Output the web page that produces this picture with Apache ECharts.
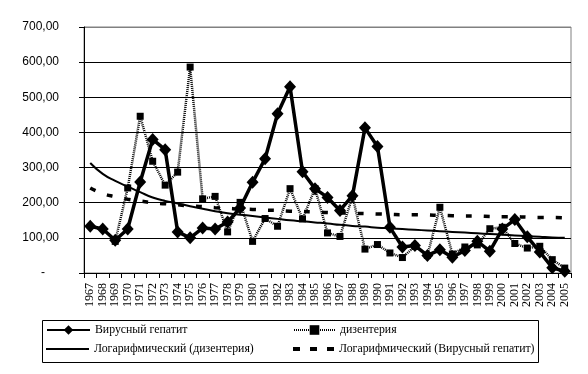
<!DOCTYPE html>
<html>
<head>
<meta charset="utf-8">
<script src="https://cdn.jsdelivr.net/npm/echarts@6/dist/echarts.min.js"></script>
<style>html,body{margin:0;padding:0;background:#fff}#c{width:588px;height:374px}</style>
</head>
<body>
<div id="c"></div>
<script>
var years = ['1967','1968','1969','1970','1971','1972','1973','1974','1975','1976','1977','1978','1979','1980','1981','1982','1983','1984','1985','1986','1987','1988','1989','1990','1991','1992','1993','1994','1995','1996','1997','1998','1999','2000','2001','2002','2003','2004','2005'];
var hepatitis = [133,125,93,125,259,380,351,117,100,128,125,145,185,258,325,453,530,288,240,215,178,220,413,360,130,74,78,50,66,45,64,90,62,125,152,103,60,15,5];
var dysentery = [null,null,90,242,446,318,250,287,586,211,218,117,201,90,155,133,240,154,240,114,104,218,68,81,57,44,76,50,187,54,74,80,126,130,84,71,76,38,14];
var trendDysentery = [313,282,262,246,230,215,205,198,190,183,176,170,166,162,158,154,150,147,144,141,137,134,132,129,127,125,123,121,119,117,115,113,111,109,107,105,103,101,100];
var trendHepatitis = [242,226,217,210,205,200,197,194,191,189,186,184,182,181,179,178,176,175,174,172,171,170,169,168,167,166,166,165,164,163,162,162,161,160,160,159,158,158,157];
var yTicks = [0,100,200,300,400,500,600,700];

var names = ['Вирусный гепатит','дизентерия','Логарифмический (дизентерия)','Логарифмический (Вирусный гепатит)'];
var chart = echarts.init(document.getElementById('c'));
var legendText = {fontFamily:'Liberation Serif', fontSize:11.8, color:'#000'};
chart.setOption({
  animation:false,
  backgroundColor:'#fff',
  grid:{left:84, right:17, top:27, bottom:101, show:true, borderColor:'#808080', borderWidth:1},
  xAxis:{type:'category', data:years, boundaryGap:true,
    axisLine:{lineStyle:{color:'#000', width:1}},
    axisTick:{show:true, interval:0, length:5, lineStyle:{color:'#000'}},
    axisLabel:{interval:0, rotate:90, margin:10, fontFamily:'Liberation Serif', fontSize:12, color:'#000'},
    splitLine:{show:false}},
  yAxis:{type:'value', min:yTicks[0], max:yTicks[yTicks.length-1], interval:100,
    axisLine:{show:true, lineStyle:{color:'#000', width:1}},
    axisTick:{show:true, length:5, lineStyle:{color:'#000'}},
    axisLabel:{margin:25, fontFamily:'Liberation Sans', fontSize:12, color:'#000',
      formatter:function(v){ return v===0 ? '{d|-}' : v.toFixed(2).replace('.', ','); },
      rich:{d:{fontFamily:'Liberation Sans', fontSize:12, color:'#000', padding:[0,14,0,0]}}},
    splitLine:{show:true, lineStyle:{color:['#000','#000','#000','#000','#000','#000','#000','#808080'], width:1}}},
  legend:[
    {data:[names[0]], left:41, top:319, itemWidth:43, itemHeight:12, textStyle:legendText, selectedMode:false},
    {data:[names[1]], left:288, top:319, itemWidth:41, itemHeight:12, textStyle:legendText, selectedMode:false},
    {data:[{name:names[2], icon:'rect'}], left:41, top:338, itemWidth:43, itemHeight:2, textStyle:legendText, selectedMode:false},
    {data:[{name:names[3], icon:'path://M0,0H7V4H0Z M17,0H24V4H17Z M34,0H41V4H34Z'}], left:288, top:338, itemWidth:41, itemHeight:4, textStyle:legendText, selectedMode:false}
  ],
  graphic:[{type:'rect', shape:{x:42.5, y:320.5, width:496, height:42}, style:{fill:null, stroke:'#000', lineWidth:1}, z:-1}],
  series:[
    {name:names[0], type:'line', data:hepatitis, symbol:'diamond', symbolSize:[12,13], showSymbol:true,
      lineStyle:{color:'#000', width:3.5}, itemStyle:{color:'#000', borderWidth:0}, z:2},
    {name:names[1], type:'line', data:dysentery, symbol:'rect', symbolSize:7, connectNulls:false,
      lineStyle:{color:'#000', width:2.5, type:[1,1]}, itemStyle:{color:'#000', borderWidth:0}, z:3},
    {name:names[2], type:'line', data:trendDysentery, symbol:'none', smooth:true,
      lineStyle:{color:'#000', width:2}, itemStyle:{color:'#000'}, z:4},
    {name:names[3], type:'line', data:trendHepatitis, symbol:'none', smooth:true,
      lineStyle:{color:'#000', width:3.5, type:[6,12]}, itemStyle:{color:'#000'}, z:4}
  ]
});
</script>
</body>
</html>
